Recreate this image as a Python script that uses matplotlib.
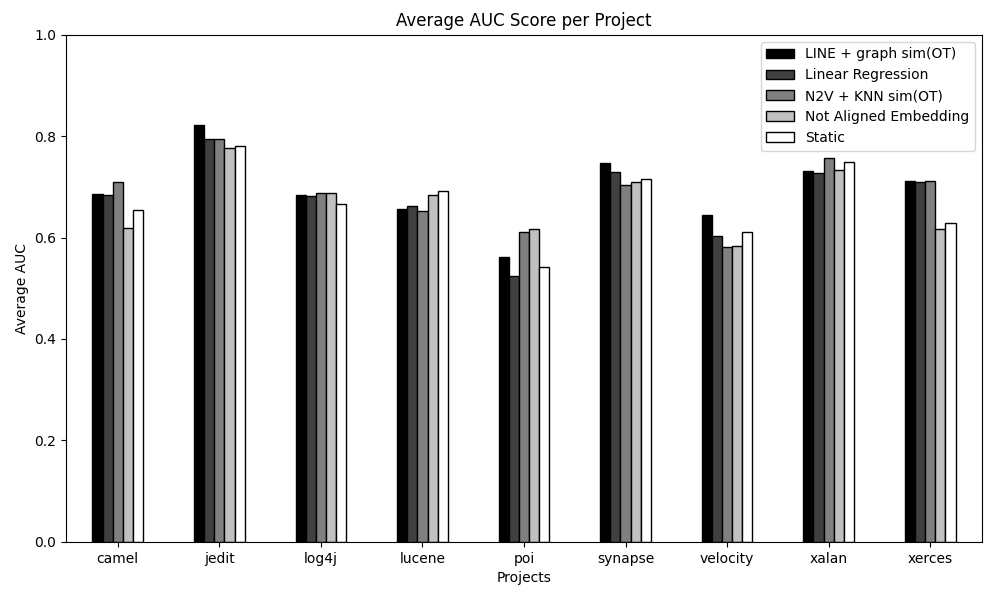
import numpy as np
import matplotlib
matplotlib.use('Agg')
import matplotlib.pyplot as plt

projects = ['camel', 'jedit', 'log4j', 'lucene', 'poi', 'synapse', 'velocity', 'xalan', 'xerces']

line_graph = [0.686, 0.822, 0.684, 0.657, 0.562, 0.748, 0.645, 0.732, 0.712]
linear_reg = [0.684, 0.794, 0.682, 0.662, 0.524, 0.729, 0.603, 0.728, 0.710]
n2v_knn = [0.710, 0.794, 0.688, 0.652, 0.611, 0.704, 0.581, 0.757, 0.711]
not_aligned = [0.618, 0.776, 0.688, 0.684, 0.617, 0.710, 0.583, 0.733, 0.617]
static = [0.655, 0.780, 0.666, 0.692, 0.542, 0.715, 0.611, 0.749, 0.629]

series = [line_graph, linear_reg, n2v_knn, not_aligned, static]
labels = ['LINE + graph sim(OT)', 'Linear Regression', 'N2V + KNN sim(OT)',
          'Not Aligned Embedding', 'Static']
colors = ['#000000', '#404040', '#808080', '#c0c0c0', '#ffffff']

fig, ax = plt.subplots(figsize=(10, 6), dpi=100)

x = np.arange(len(projects))
w = 0.1
for i in range(len(series)):
    ax.bar(x + (i - 2) * w, series[i], w, color=colors[i], edgecolor='black',
           linewidth=1, label=labels[i])

ax.set_xticks(x)
ax.set_xticklabels(projects)
ax.set_xlim(-0.51, len(projects) - 0.49)
ax.set_ylim(0, 1.0)
ax.set_xlabel('Projects')
ax.set_ylabel('Average AUC')
ax.set_title('Average AUC Score per Project')
ax.legend(loc='upper right')

plt.subplots_adjust(left=0.066, right=0.982, top=0.942, bottom=0.097)
plt.savefig('out.png')
